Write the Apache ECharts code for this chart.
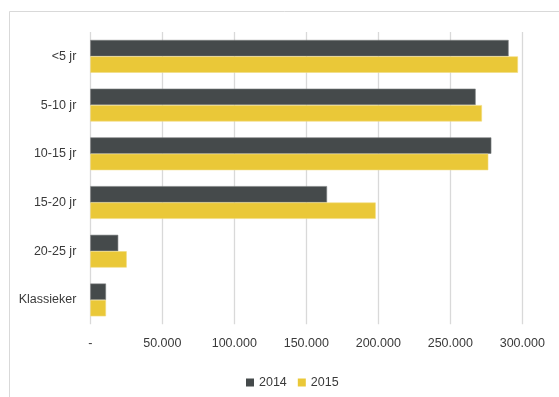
<!DOCTYPE html>
<html>
<head>
<meta charset="utf-8">
<script src="https://cdn.jsdelivr.net/npm/echarts@6/dist/echarts.min.js"></script>
<style>
  html, body { margin: 0; padding: 0; background: #ffffff; }
  #chart { width: 559px; height: 397px; }
</style>
</head>
<body>
<div id="chart"></div>
<script>
// Vehicle age classes (top to bottom)
const categories = ['<5 jr', '5-10 jr', '10-15 jr', '15-20 jr', '20-25 jr', 'Klassieker'];
const seriesNames = ['2014', '2015'];
const values2014 = [290500, 267600, 278500, 164400, 19400, 10900];
const values2015 = [297000, 272000, 276400, 198200, 25300, 10900];
const xTicks = [0, 50000, 100000, 150000, 200000, 250000, 300000];

const FONT = '"Liberation Sans", Arial, sans-serif';
const TEXT = '#3a3a3a';

// Dutch-style thousands separator, dash for zero
function fmt(v) {
  if (v === 0) return '-';
  return String(Math.round(v)).replace(/\B(?=(\d{3})+(?!\d))/g, '.');
}

const chart = echarts.init(document.getElementById('chart'), null, { renderer: 'canvas' });

chart.setOption({
  animation: false,
  backgroundColor: '#ffffff',
  textStyle: { fontFamily: FONT },
  grid: { left: 90.3, right: 36.7, top: 32, bottom: 72.7, containLabel: false },
  legend: {
    left: 241,
    top: 371,
    itemWidth: 8,
    itemHeight: 8,
    itemGap: 11,
    icon: 'rect',
    itemStyle: { borderWidth: 0 },
    textStyle: { fontFamily: FONT, fontSize: 12.5, color: TEXT },
    data: seriesNames
  },
  xAxis: {
    type: 'value',
    min: xTicks[0],
    max: xTicks[xTicks.length - 1],
    interval: xTicks[1] - xTicks[0],
    axisLine: { show: false },
    axisTick: { show: false },
    splitLine: { show: true, lineStyle: { color: '#d9d9d9', width: 1.3 } },
    axisLabel: {
      formatter: fmt,
      margin: 13,
      color: TEXT,
      fontFamily: FONT,
      fontSize: 12.5
    }
  },
  yAxis: {
    type: 'category',
    inverse: true,
    data: categories,
    axisLine: { show: false },
    axisTick: { show: false },
    axisLabel: {
      margin: 14,
      color: TEXT,
      fontFamily: FONT,
      fontSize: 12.5
    }
  },
  series: [
    {
      name: seriesNames[0],
      type: 'bar',
      data: values2014,
      barWidth: 16.4,
      barGap: '0%',
      itemStyle: { color: '#454a4b', borderColor: '#7a7d7e', borderWidth: 0.6 }
    },
    {
      name: seriesNames[1],
      type: 'bar',
      data: values2015,
      barWidth: 16.4,
      barGap: '0%',
      itemStyle: { color: '#eac838', borderColor: '#f1dc80', borderWidth: 0.6 }
    }
  ],
  graphic: [
    // outer chart-area frame (left and top edges)
    { type: 'line', shape: { x1: 9.5, y1: 11.5, x2: 9.5, y2: 397 }, style: { stroke: '#d9d9d9', lineWidth: 1 }, silent: true },
    { type: 'line', shape: { x1: 9.5, y1: 11.5, x2: 559, y2: 11.5 }, style: { stroke: '#d9d9d9', lineWidth: 1 }, silent: true }
  ]
});
</script>
</body>
</html>
